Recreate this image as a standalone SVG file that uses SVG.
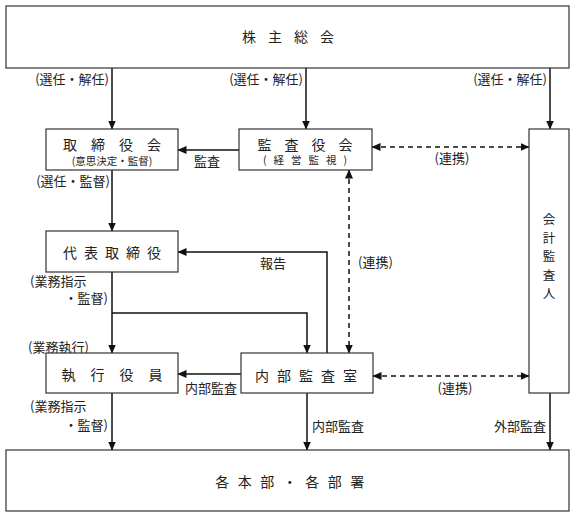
<svg xmlns="http://www.w3.org/2000/svg" width="580" height="518" viewBox="0 0 580 518">
<style>
.box{fill:#fff;stroke:#333;stroke-width:1.2}
.t{font-family:"Noto Sans CJK JP","Noto Sans CJK SC",sans-serif;fill:#222;dominant-baseline:central}
.title{font-size:14px}
.vert{font-size:12.5px}
.lbl{font-size:13px}
.sub{font-size:10.5px}
.ln{fill:none;stroke:#111;stroke-width:1.5}
.dash{fill:none;stroke:#111;stroke-width:1.5;stroke-dasharray:5,4}
</style>
<defs>
<marker id="ah" markerWidth="9" markerHeight="8" refX="8.5" refY="4" orient="auto" markerUnits="userSpaceOnUse">
<path d="M0,0 L9,4 L0,8 z" fill="#111"/>
</marker>
<marker id="ahs" markerWidth="9" markerHeight="8" refX="0.5" refY="4" orient="auto" markerUnits="userSpaceOnUse">
<path d="M9,0 L0,4 L9,8 z" fill="#111"/>
</marker>
</defs>
<g id="connectors">
<path class="ln" d="M112,68 V129" marker-end="url(#ah)"/>
<path class="ln" d="M306,68 V129" marker-end="url(#ah)"/>
<path class="ln" d="M550,68 V129" marker-end="url(#ah)"/>
<path class="ln" d="M239,150 H178" marker-end="url(#ah)"/>
<path class="dash" d="M372,147 H529" marker-start="url(#ahs)" marker-end="url(#ah)"/>
<path class="ln" d="M112,170 V231" marker-end="url(#ah)"/>
<path class="ln" d="M327,353 V252 H178" marker-end="url(#ah)"/>
<path class="ln" d="M112,272 V353" marker-end="url(#ah)"/>
<path class="ln" d="M112,313 H307 V353" marker-end="url(#ah)"/>
<path class="dash" d="M349,170 V353" marker-start="url(#ahs)" marker-end="url(#ah)"/>
<path class="ln" d="M241,374 H178" marker-end="url(#ah)"/>
<path class="dash" d="M373,376 H529" marker-start="url(#ahs)" marker-end="url(#ah)"/>
<path class="ln" d="M112,393 V450" marker-end="url(#ah)"/>
<path class="ln" d="M307,393 V450" marker-end="url(#ah)"/>
<path class="ln" d="M550,393 V450" marker-end="url(#ah)"/>
</g>
<g id="labels">
<text class="t lbl" x="109" y="78" text-anchor="end">(選任・解任)</text>
<text class="t lbl" x="303" y="78" text-anchor="end">(選任・解任)</text>
<text class="t lbl" x="547" y="78" text-anchor="end">(選任・解任)</text>
<text class="t lbl" x="207" y="160" text-anchor="middle">監査</text>
<text class="t lbl" x="452" y="157" text-anchor="middle">(連携)</text>
<text class="t lbl" x="110" y="180" text-anchor="end">(選任・監督)</text>
<text class="t lbl" x="273" y="262" text-anchor="middle">報告</text>
<text class="t lbl" x="358" y="261">(連携)</text>
<text class="t lbl" x="30" y="280">(業務指示</text>
<text class="t lbl" x="108" y="297" text-anchor="end">・監督)</text>
<text class="t lbl" x="28" y="346">(業務執行)</text>
<text class="t lbl" x="211" y="387" text-anchor="middle">内部監査</text>
<text class="t lbl" x="455" y="387" text-anchor="middle">(連携)</text>
<text class="t lbl" x="30" y="405">(業務指示</text>
<text class="t lbl" x="108" y="424" text-anchor="end">・監督)</text>
<text class="t lbl" x="312" y="425">内部監査</text>
<text class="t lbl" x="546" y="425" text-anchor="end">外部監査</text>
</g>
<g id="shareholders">
<rect class="box" x="6" y="6" width="563" height="62"/>
<text class="t title" x="294" y="36" text-anchor="middle" letter-spacing="12">株主総会</text>
</g>
<g id="board">
<rect class="box" x="46" y="129" width="132" height="41"/>
<text class="t title" x="119" y="144" text-anchor="middle" letter-spacing="14">取締役会</text>
<text class="t sub" x="112" y="160" text-anchor="middle">(意思決定・監督)</text>
</g>
<g id="auditors">
<rect class="box" x="239" y="129" width="133" height="41"/>
<text class="t title" x="311.5" y="143.5" text-anchor="middle" letter-spacing="13">監査役会</text>
<text class="t sub" x="308.5" y="159.5" text-anchor="middle" letter-spacing="7">(経営監視)</text>
</g>
<g id="accounting-auditor">
<rect class="box" x="529" y="129" width="40" height="264"/>
<text class="t vert" text-anchor="middle"><tspan x="549" y="218">会</tspan><tspan x="549" y="236.5">計</tspan><tspan x="549" y="255">監</tspan><tspan x="549" y="273.5">査</tspan><tspan x="549" y="292">人</tspan></text>
</g>
<g id="representative">
<rect class="box" x="46" y="231" width="132" height="41"/>
<text class="t title" x="115.5" y="252" text-anchor="middle" letter-spacing="7">代表取締役</text>
</g>
<g id="executive">
<rect class="box" x="46" y="353" width="132" height="40"/>
<text class="t title" x="119.5" y="374" text-anchor="middle" letter-spacing="15">執行役員</text>
</g>
<g id="internal-audit">
<rect class="box" x="241" y="353" width="132" height="40"/>
<text class="t title" x="310" y="375" text-anchor="middle" letter-spacing="8">内部監査室</text>
</g>
<g id="divisions">
<rect class="box" x="6" y="450" width="563" height="61"/>
<text class="t title" x="294" y="481" text-anchor="middle" letter-spacing="8.5">各本部・各部署</text>
</g>
</svg>
